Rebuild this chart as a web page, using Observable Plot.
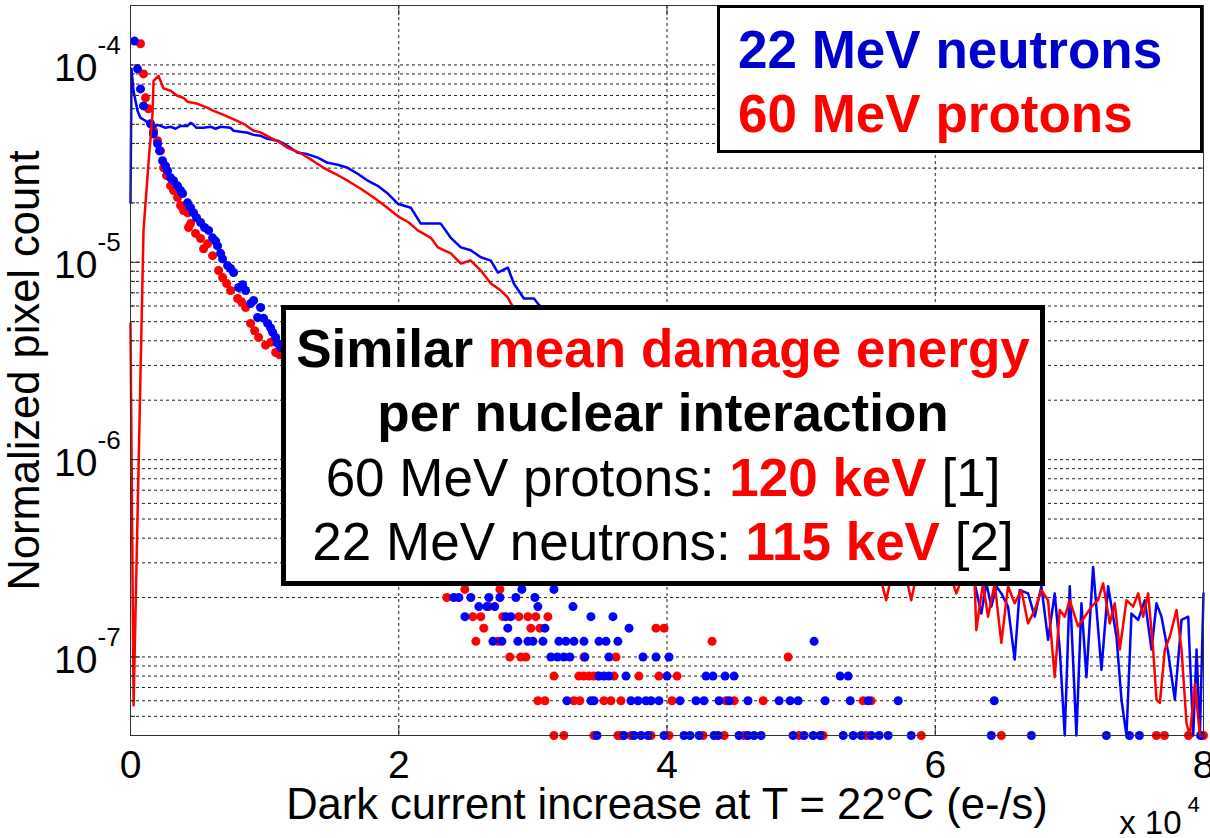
<!DOCTYPE html>
<html><head><meta charset="utf-8">
<script src="https://cdn.jsdelivr.net/npm/d3@7"></script>
<script src="https://cdn.jsdelivr.net/npm/@observablehq/plot@0.6"></script>
<style>
body{margin:0;background:#fff;}
#wrap{width:1210px;height:838px;overflow:hidden;}
</style></head><body><div id="wrap"></div>
<script>
// ---------- tick definitions ----------
const xTicks = [0, 20000, 40000, 60000, 80000];
const xTickLabels = ["0", "2", "4", "6", "8"];
const xGrid = [20000, 40000, 60000];
const yMajor = [1e-7, 1e-6, 1e-5, 1e-4];
const yMinor = [5e-8, 6e-8, 7e-8, 8e-8, 9e-8,
  2e-7, 3e-7, 4e-7, 5e-7, 6e-7, 7e-7, 8e-7, 9e-7,
  2e-6, 3e-6, 4e-6, 5e-6, 6e-6, 7e-6, 8e-6, 9e-6,
  2e-5, 3e-5, 4e-5, 5e-5, 6e-5, 7e-5, 8e-5, 9e-5];

// ---------- line series (histogram curves) ----------
const blueLineX = [0,75,224,520,750,1120,1490,1720,2010,2240,2610,2990,3360,3730,4250,4480,4630,4920,5450,5970,6340,6720,7460,7690,8210,8730,9180,9700,10220,10970,11420,11940,12460,13060,13960,14700,15450,16190,16940,17690,18430,19180,19930,20900,21640,22390,23130,23880,24630,25370,26120,26870,27390,28130,28580,29330,30080,30370,
 31000,32000,33000,34000,35000,36000,37000,38000,39000,40000,41000,42000,43000,44000,45000,46000,47000,48000,49000,50000,51000,52000,53000,54000,55000,56000,57000,58000,59000,60000,61000,62000,62500,
 62938,63436,63809,64182,64555,64928,65426,65923,66296,66918,67416,67913,68411,68908,69282,69655,70028,70526,70899,71272,71769,72391,72889,73511,73884,74257,74630,75128,75625,76123,76496,76869,77367,77864,78362,78860,79233,79482,79731,80000];
const blueLineY = [2.0e-5,9.55e-5,7.39e-5,5.85e-5,5.39e-5,5.21e-5,4.91e-5,4.80e-5,4.97e-5,4.91e-5,4.80e-5,4.86e-5,4.75e-5,4.91e-5,4.91e-5,5.09e-5,5.03e-5,4.80e-5,4.80e-5,4.86e-5,4.75e-5,4.86e-5,4.80e-5,4.64e-5,4.58e-5,4.53e-5,4.42e-5,4.37e-5,4.22e-5,4.13e-5,3.99e-5,3.80e-5,3.59e-5,3.55e-5,3.39e-5,3.19e-5,3.12e-5,3.01e-5,2.81e-5,2.59e-5,2.44e-5,2.23e-5,1.98e-5,1.89e-5,1.57e-5,1.57e-5,1.57e-5,1.33e-5,1.19e-5,1.15e-5,1.06e-5,1.02e-5,8.87e-6,9.40e-6,7.80e-6,6.55e-6,6.55e-6,6.18e-6,
 5.6e-6,5.0e-6,4.5e-6,4.0e-6,3.6e-6,3.2e-6,2.85e-6,2.55e-6,2.3e-6,2.05e-6,1.85e-6,1.65e-6,1.5e-6,1.35e-6,1.2e-6,1.08e-6,9.7e-7,8.8e-7,8.0e-7,7.2e-7,6.5e-7,5.9e-7,5.4e-7,4.9e-7,4.5e-7,4.2e-7,3.9e-7,3.6e-7,3.4e-7,3.2e-7,3.0e-7,2.6e-7,2.45e-7,
 2.36e-7,1.66e-7,2.36e-7,1.80e-7,2.28e-7,2.10e-7,1.80e-7,9.7e-8,2.18e-7,2.10e-7,1.60e-7,2.28e-7,1.22e-7,2.10e-7,1.09e-7,4e-8,2.28e-7,4e-8,1.87e-7,7.9e-8,2.86e-7,8.6e-8,2.28e-7,1.27e-7,6.07e-8,4e-8,1.66e-7,1.54e-7,1.94e-7,1.09e-7,1.87e-7,1.60e-7,1.05e-7,6.07e-8,1.54e-7,1.60e-7,4e-8,1.09e-7,4e-8,2.10e-7];

const redLineX = [0,230,970,1340,1640,1720,2090,2460,2990,3450,3960,4250,5000,5750,6190,6900,7460,8430,9180,9700,10450,11000,11720,12690,13500,14400,15300,16190,17200,18130,19100,20000,20700,21420,22390,22910,23880,24630,25370,26120,26870,27610,28130,28360,
 29000,30000,31000,32000,33000,34000,35000,36000,37000,38000,39000,40000,41000,42000,43000,44000,45000,46000,47000,48000,49000,50000,51000,52000,53000,54000,55000,55800,56340,56800,57800,58210,58600,59500,60500,61200,61570,62000,62500,
 62938,63062,63560,63933,64431,64928,65426,65923,66421,66918,67416,67913,68411,68908,69282,69655,70028,70650,71147,71645,72143,72516,73013,73386,73760,74257,74755,75128,75500,75874,76247,76496,76745,77118,77491,77989,78362,78735,78984,79358,79731,80000];
const redLineY = [4.9e-6,5.7e-8,1.45e-5,3.16e-5,5.65e-5,8.3e-5,8.8e-5,7.6e-5,7.4e-5,7.0e-5,6.8e-5,6.5e-5,6.35e-5,6.06e-5,5.85e-5,5.6e-5,5.39e-5,5.03e-5,4.64e-5,4.55e-5,4.27e-5,4.1e-5,3.80e-5,3.57e-5,3.3e-5,3.01e-5,2.8e-5,2.59e-5,2.35e-5,2.13e-5,1.9e-5,1.70e-5,1.6e-5,1.45e-5,1.33e-5,1.19e-5,1.11e-5,9.85e-6,1.02e-5,9.08e-6,7.80e-6,7.19e-6,6.63e-6,6.18e-6,
 5.4e-6,4.7e-6,4.1e-6,3.6e-6,3.2e-6,2.8e-6,2.45e-6,2.15e-6,1.9e-6,1.7e-6,1.5e-6,1.33e-6,1.18e-6,1.05e-6,9.4e-7,8.5e-7,7.6e-7,6.8e-7,6.1e-7,5.5e-7,5.0e-7,4.5e-7,4.1e-7,3.8e-7,3.5e-7,3.2e-7,2.9e-7,2.7e-7,1.94e-7,2.7e-7,2.6e-7,1.94e-7,2.6e-7,2.6e-7,2.5e-7,2.5e-7,2.1e-7,2.5e-7,2.45e-7,
 2.36e-7,1.37e-7,2.36e-7,1.60e-7,2.36e-7,1.18e-7,2.28e-7,1.87e-7,2.18e-7,1.48e-7,1.73e-7,2.18e-7,1.94e-7,7.9e-8,1.73e-7,1.60e-7,1.94e-7,1.43e-7,1.60e-7,1.80e-7,1.94e-7,2.36e-7,1.48e-7,1.87e-7,1.09e-7,1.94e-7,1.80e-7,2.10e-7,1.60e-7,2.10e-7,1.09e-7,6.07e-8,5.85e-8,1.09e-7,1.27e-7,1.73e-7,1.09e-7,4.6e-8,4e-8,7.3e-8,4e-8,4e-8];

// ---------- dot series: steep upper part ----------
const blueDotX = [299,522,746,970,1493,1716,2015,2164,2388,2612,2761,2985,3209,3508,3731,3881,4254,4478,4702,4925,5224,5522,5821,6119,6343,6493,6716,6866,7239,7463,7687,8060,8358,8582,8955,9179,9478,9702,9925,10224,10448,10597,10821,10970,11194,
 11900,12600,13400,14200,15000,15800,16600,17400,18200,19000,19800,20600,21400,22200,23000,23800];
const blueDotY = [1.32e-4,9.55e-5,7.56e-5,6.20e-5,5.03e-5,4.48e-5,3.99e-5,3.67e-5,3.27e-5,3.08e-5,2.91e-5,2.68e-5,2.59e-5,2.44e-5,2.31e-5,2.23e-5,2.00e-5,1.89e-5,1.78e-5,1.68e-5,1.59e-5,1.50e-5,1.45e-5,1.33e-5,1.28e-5,1.21e-5,1.11e-5,1.04e-5,9.62e-6,9.30e-6,8.87e-6,7.45e-6,7.70e-6,7.19e-6,6.18e-6,6.40e-6,5.25e-6,5.90e-6,5.2e-6,4.90e-6,4.65e-6,4.41e-6,4.16e-6,3.88e-6,3.7e-6,
 3.1e-6,2.6e-6,2.2e-6,1.8e-6,1.5e-6,1.25e-6,1.05e-6,8.8e-7,7.4e-7,6.2e-7,5.3e-7,4.6e-7,4.0e-7,3.4e-7,3.0e-7,2.6e-7];
const redDotX = [746,970,1119,1343,1716,2015,2239,2463,2687,2985,3209,3508,3731,3955,4254,4328,4478,4851,5224,5448,5746,6119,6567,6866,7164,7463,7985,8284,8582,8955,9254,9552,10075,10448,10821,11120,
 11800,12500,13300,14100,14900,15700,16500,17300,18100,18900,19700,20500,21300,22100,22900];
const redDotY = [1.28e-4,9.0e-5,6.81e-5,5.99e-5,4.64e-5,4.13e-5,3.67e-5,3.01e-5,2.75e-5,2.44e-5,2.31e-5,2.13e-5,1.94e-5,1.83e-5,1.78e-5,1.50e-5,1.57e-5,1.40e-5,1.32e-5,1.17e-5,1.24e-5,1.08e-5,9.08e-6,8.37e-6,7.8e-6,7.19e-6,6.55e-6,6.3e-6,5.90e-6,4.90e-6,4.5e-6,4.16e-6,3.8e-6,3.93e-6,3.49e-6,3.4e-6,
 2.9e-6,2.45e-6,2.05e-6,1.7e-6,1.4e-6,1.17e-6,9.8e-7,8.2e-7,6.9e-7,5.8e-7,4.9e-7,4.2e-7,3.6e-7,3.1e-7,2.7e-7];

// ---------- dot series: sparse tail on discrete count levels ----------
const dotLevels = [2.2e-7, 2.0e-7, 1.8e-7, 1.6e-7, 1.4e-7, 1.2e-7, 1.0e-7, 8e-8, 6e-8, 4e-8];
const blueTailX = [
  [29180,31570],
  [24100,24480,25370,26720,27540,28730,30150],
  [25970,26570,27160,30370,32990],
  [24930,27990,28360,34330,35970],
  [28130,30900,37170],
  [27020,27690,28880,29630,30000,30750,31940,32460,33060,33810,34930,35450,36340,50970],
  [31340,31830,32310,32760,33880,35670,38210,39180,40150],
  [34930,35300,35670,36940,40000,42910,43430,44330,45000,52910,53510],
  [32540,34330,34550,37310,37840,38430,38810,39400,40970,42160,42760,43880,44630,46040,48360,49180,49780,51790,53660,55000,57240,64400],
  [34780,36790,37540,38060,38580,39780,41270,41720,42390,43510,43810,45370,46040,46490,47020,49400,50220,50900,51420,53140,53880,54480,55220,55820,56490,58210,64180,67170,72760,74480,75220,79780]
];
const redTailX = [
  [24925,27540],
  [23580],
  [26720],
  [25520,26120,27760,28960,29630,30220,31120],
  [26340,29850,30520,39180,39780],
  [25750,27390,43360],
  [28280,29100,29480,33810,36200,49030],
  [31570,33430,33800,34180,34550,34850,36050,37910,39400,40750],
  [30370,30900,33060,33500,35300,35820,36570,40370,44400,45000,47170,54630,55220],
  [31570,32310,34550,36340,36570,37310,38810,40150,42690,44260,45750,49850,51640,54850,58960,64930,76490,77090,78880,80000]
];

// ---------- texts ----------
const yLabel = "Normalized pixel count";
const xLabel = "Dark current increase at T = 22°C (e-/s)";
const legendItems = [{text: "22 MeV neutrons", color: "#0000cc"}, {text: "60 MeV protons", color: "#ff0000"}];

// ---------- build tables ----------
const blueLine = blueLineX.map((x, i) => ({x, y: blueLineY[i]}));
const redLine = redLineX.map((x, i) => ({x, y: redLineY[i]}));
const blueDots = blueDotX.map((x, i) => ({x, y: blueDotY[i]}));
const redDots = redDotX.map((x, i) => ({x, y: redDotY[i]}));
blueTailX.forEach((row, j) => row.forEach(x => blueDots.push({x, y: dotLevels[j]})));
redTailX.forEach((row, j) => row.forEach(x => redDots.push({x, y: dotLevels[j]})));

const W = 1210, H = 838, mL = 130, mR = 7, mT = 5, mB = 103;
const fw = W - mL - mR, fh = H - mT - mB;
const font = "Arial, 'Liberation Sans', sans-serif";
const gridStyle = {stroke: "#222", strokeWidth: 1, strokeDasharray: "3,3"};

const chart = Plot.plot({
  width: W, height: H,
  marginLeft: mL, marginRight: mR, marginTop: mT, marginBottom: mB,
  style: {fontFamily: font, background: "white", color: "black"},
  x: {domain: [0, 80000], axis: null},
  y: {type: "log", domain: [4e-8, 2e-4], axis: null},
  marks: [
    Plot.ruleY([...yMinor, ...yMajor], {y: d => d, ...gridStyle}),
    Plot.ruleX(xGrid, {x: d => d, ...gridStyle}),
    Plot.dot(redDots, {x: "x", y: "y", r: 4.5, fill: "#ff0000", stroke: "none"}),
    Plot.dot(blueDots, {x: "x", y: "y", r: 4.5, fill: "#0000ff", stroke: "none"}),
    Plot.line(blueLine, {x: "x", y: "y", stroke: "#0000ff", strokeWidth: 2.5}),
    Plot.line(redLine, {x: "x", y: "y", stroke: "#ff0000", strokeWidth: 2.5}),
    // axis ticks (inward)
    Plot.tickY(yMinor, {y: d => d, insetRight: fw - 5, stroke: "#222"}),
    Plot.tickY(yMinor, {y: d => d, insetLeft: fw - 5, stroke: "#222"}),
    Plot.tickY(yMajor, {y: d => d, insetRight: fw - 10, stroke: "#222"}),
    Plot.tickY(yMajor, {y: d => d, insetLeft: fw - 10, stroke: "#222"}),
    Plot.tickX(xGrid, {x: d => d, insetTop: fh - 10, stroke: "#222"}),
    Plot.tickX(xGrid, {x: d => d, insetBottom: fh - 10, stroke: "#222"}),
    Plot.frame({stroke: "#333", strokeWidth: 1}),
    // y tick labels 10^k
    Plot.text(yMajor, {y: d => d, text: () => "10", frameAnchor: "left", textAnchor: "end", lineAnchor: "bottom", dx: -33, dy: 16, fontSize: 39}),
    Plot.text(yMajor, {y: d => d, text: d => String(Math.round(Math.log10(d))), frameAnchor: "left", textAnchor: "start", lineAnchor: "bottom", dx: -33, dy: -11, fontSize: 26}),
    // x tick labels
    Plot.text(xTicks, {x: d => d, text: (d, i) => xTickLabels[i], frameAnchor: "bottom", textAnchor: "middle", lineAnchor: "top", dy: 15, fontSize: 39}),
    // x label and multiplier
    Plot.text([xLabel], {text: d => d, frameAnchor: "bottom", textAnchor: "middle", lineAnchor: "bottom", dy: 83, fontSize: 43.5}),
    Plot.text(["x 10"], {text: d => d, frameAnchor: "bottom-right", textAnchor: "end", lineAnchor: "bottom", dx: -22, dy: 98, fontSize: 33}),
    Plot.text(["4"], {text: d => d, frameAnchor: "bottom-right", textAnchor: "start", lineAnchor: "bottom", dx: -16, dy: 76, fontSize: 22}),
    // y label
    Plot.text([yLabel], {text: d => d, frameAnchor: "left", textAnchor: "middle", rotate: -90, lineAnchor: "bottom", dx: -92, fontSize: 43.5})
  ]
});

// ---------- overlay boxes ----------
const svg = d3.select(chart);
const lg = svg.append("g");
lg.append("rect").attr("x", 718.5).attr("y", 6.5).attr("width", 483).attr("height", 145)
  .attr("fill", "white").attr("stroke", "black").attr("stroke-width", 3);
legendItems.forEach((d, i) => {
  lg.append("text").attr("x", 738).attr("y", 68 + i * 64).attr("fill", d.color).attr("text-anchor", "start")
    .attr("font-family", font).attr("font-weight", "bold").attr("font-size", 53).text(d.text);
});

const ag = svg.append("g");
ag.append("rect").attr("x", 283.5).attr("y", 307.5).attr("width", 759).attr("height", 276)
  .attr("fill", "white").attr("stroke", "black").attr("stroke-width", 5);
const noteLines = [
  [["Similar ", "bold", "black"], ["mean damage energy", "bold", "#ff0000"]],
  [["per nuclear interaction", "bold", "black"]],
  [["60 MeV protons: ", "normal", "black"], ["120 keV", "bold", "#ff0000"], [" [1]", "normal", "black"]],
  [["22 MeV neutrons: ", "normal", "black"], ["115 keV", "bold", "#ff0000"], [" [2]", "normal", "black"]]
];
const noteY = [367, 431, 496, 560];
noteLines.forEach((parts, i) => {
  const t = ag.append("text").attr("x", 663).attr("y", noteY[i]).attr("text-anchor", "middle")
    .attr("font-family", font).attr("font-size", 53).attr("xml:space", "preserve");
  parts.forEach(([s, w, c]) => t.append("tspan").attr("font-weight", w).attr("fill", c).text(s));
});

document.getElementById("wrap").appendChild(chart);
</script>
</body></html>
